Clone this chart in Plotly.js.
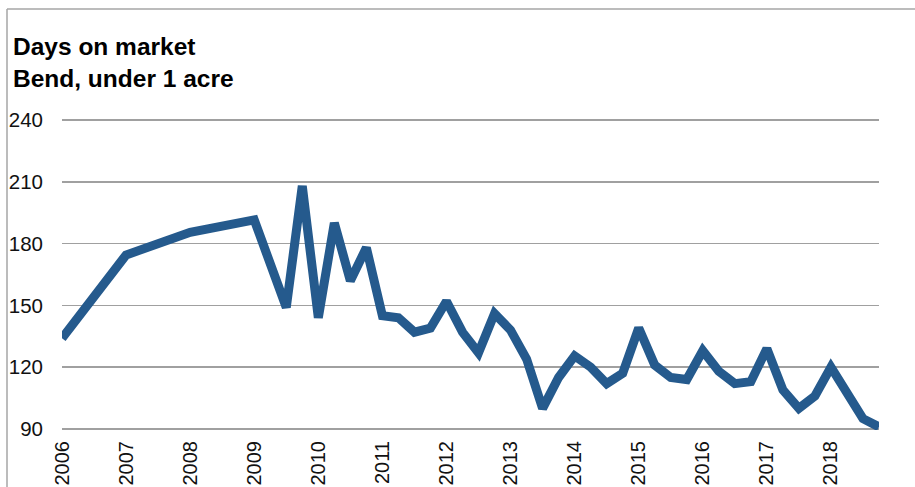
<!DOCTYPE html>
<html>
<head>
<meta charset="utf-8">
<script src="https://cdn.plot.ly/plotly-3.0.1.min.js"></script>
<style>
  html, body { margin: 0; padding: 0; background: #fff; }
  #chart { width: 915px; height: 487px; }
</style>
</head>
<body>
<div id="chart"></div>
<script>
// Period (year, quarters as fractions) and median days on market
const periods = [2006, 2007, 2008, 2009, 2009.5, 2009.75,
  2010, 2010.25, 2010.5, 2010.75,
  2011, 2011.25, 2011.5, 2011.75,
  2012, 2012.25, 2012.5, 2012.75,
  2013, 2013.25, 2013.5, 2013.75,
  2014, 2014.25, 2014.5, 2014.75,
  2015, 2015.25, 2015.5, 2015.75,
  2016, 2016.25, 2016.5, 2016.75,
  2017, 2017.25, 2017.5, 2017.75,
  2018, 2018.25, 2018.5, 2018.75];
const daysOnMarket = [134, 174.5, 185.5, 191.5, 149, 208,
  144, 190, 162, 178,
  145, 144, 137, 139,
  152, 137, 127, 146,
  138, 124, 100, 115,
  125.5, 120, 112, 117,
  139, 121, 115, 114,
  128, 118, 112, 113,
  129, 109, 100, 106,
  120, 107, 95, 91];
const yearTicks = [2006, 2007, 2008, 2009, 2010, 2011, 2012, 2013, 2014, 2015, 2016, 2017, 2018];
const yearLabels = yearTicks.map(String);
const dayTicks = [90, 120, 150, 180, 210, 240];

const W = 915, H = 487;
// y range padded by half a unit so the 90 and 240 gridlines are drawn
const margin = {l: 62, r: 36, t: 119, b: 57};
const pw = W - margin.l - margin.r, ph = H - margin.t - margin.b;
const frame = '#a6a6a6';
const font = 'Liberation Sans, Arial, sans-serif';

const trace = {
  x: periods,
  y: daysOnMarket,
  type: 'scatter',
  mode: 'lines',
  line: {color: '#255a8d', width: 9, shape: 'linear'},
  hoverinfo: 'x+y'
};

const layout = {
  width: W, height: H,
  margin: margin,
  paper_bgcolor: '#ffffff',
  plot_bgcolor: '#ffffff',
  showlegend: false,
  font: {family: font, color: '#111', size: 20},
  title: {
    text: '<b>Days on market</b><br><b>Bend, under 1 acre</b>',
    font: {family: font, size: 24.5, color: '#000'},
    x: 13 / W, xanchor: 'left', xref: 'container',
    y: 1 - 55 / H, yanchor: 'top', yref: 'container'
  },
  xaxis: {
    range: [2006, 2018.75],
    tickvals: yearTicks,
    ticktext: yearLabels,
    tickangle: -90,
    showgrid: false, zeroline: false, showline: false,
    ticks: '', ticklabelstandoff: 6,
    tickfont: {family: font, size: 20, color: '#111'}
  },
  yaxis: {
    range: [89.5, 240.5],
    tickvals: dayTicks,
    showgrid: true, gridcolor: '#a0a0a0', gridwidth: 1.6,
    zeroline: false, showline: false,
    ticks: '', ticklabelstandoff: 18,
    tickfont: {family: font, size: 20.5, color: '#111'}
  },
  shapes: [
    // chart frame: top and left edges
    {type: 'line', xref: 'paper', yref: 'paper',
     x0: (7 - margin.l) / pw, x1: (W + 5 - margin.l) / pw,
     y0: (H - 9 - margin.b) / ph, y1: (H - 9 - margin.b) / ph,
     line: {color: frame, width: 1.5}},
    {type: 'line', xref: 'paper', yref: 'paper',
     x0: (7 - margin.l) / pw, x1: (7 - margin.l) / pw,
     y0: (H - 9 - margin.b) / ph, y1: (-10 - margin.b) / ph,
     line: {color: frame, width: 1.5}}
  ]
};

Plotly.newPlot('chart', [trace], layout, {displayModeBar: false, staticPlot: true});
</script>
</body>
</html>
